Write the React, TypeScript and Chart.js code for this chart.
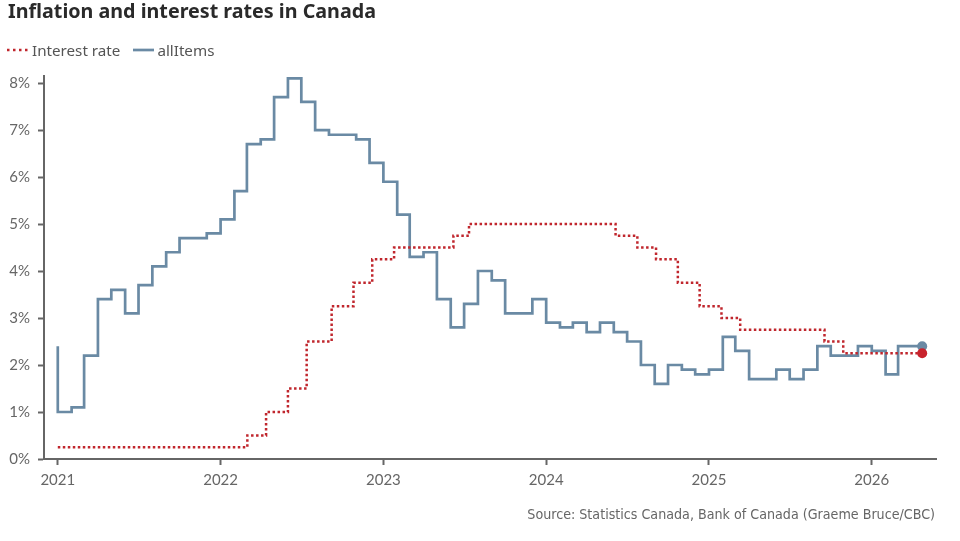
import { useEffect, useRef } from "react";
import { Chart, registerables } from "chart.js";

Chart.register(...registerables);

// Year-over-year CPI change (%), monthly from January 2021
const cpiFirstMonth = "2021-01";
const cpiValues = [
  1.0, 1.1, 2.2, 3.4, 3.6, 3.1, 3.7, 4.1, 4.4, 4.7, 4.7, 4.8,
  5.1, 5.7, 6.7, 6.8, 7.7, 8.1, 7.6, 7.0, 6.9, 6.9, 6.8, 6.3,
  5.9, 5.2, 4.3, 4.4, 3.4, 2.8, 3.3, 4.0, 3.8, 3.1, 3.1, 3.4,
  2.9, 2.8, 2.9, 2.7, 2.9, 2.7, 2.5, 2.0, 1.6, 2.0, 1.9, 1.8,
  1.9, 2.6, 2.3, 1.7, 1.7, 1.9, 1.7, 1.9, 2.4, 2.2, 2.2, 2.4,
  2.3, 1.8, 2.4,
];
// Opening value recorded on the first day of the series
const cpiOpeningValue = 2.4;

// Bank of Canada policy rate (%), by date of each change
const rateDates = [
  "2021-01-01", "2022-03-02", "2022-04-13", "2022-06-01", "2022-07-13",
  "2022-09-07", "2022-10-26", "2022-12-07", "2023-01-25", "2023-06-07",
  "2023-07-12", "2024-06-05", "2024-07-24", "2024-09-04", "2024-10-23",
  "2024-12-11", "2025-01-29", "2025-03-12", "2025-09-17", "2025-10-29",
];
const rateValues = [
  0.25, 0.5, 1.0, 1.5, 2.5,
  3.25, 3.75, 4.25, 4.5, 4.75,
  5.0, 4.75, 4.5, 4.25, 3.75,
  3.25, 3.0, 2.75, 2.5, 2.25,
];

// Latest date shown for both series
const latestDate = "2026-04-24";

const axisStart = "2020-12-01";
const axisEnd = "2026-05-25";
const yearTicks = [2021, 2022, 2023, 2024, 2025, 2026];
const percentTicks = [0, 1, 2, 3, 4, 5, 6, 7, 8];
const percentMax = 8.15;

const BLUE = "#6a8aa4";
const RED = "#c0262d";
const AXIS = "#666666";
const FONT = "Lato, 'Noto Sans', sans-serif";
const HEAD_FONT = "'Noto Sans', 'Open Sans', sans-serif";

function toYear(date: string): number {
  const [y, m, d] = date.split("-").map(Number);
  const start = Date.UTC(y, 0, 1);
  const end = Date.UTC(y + 1, 0, 1);
  return y + (Date.UTC(y, (m || 1) - 1, d || 1) - start) / (end - start);
}

function monthStart(first: string, offset: number): number {
  const [y, m] = first.split("-").map(Number);
  const total = (m - 1) + offset;
  const yy = y + Math.floor(total / 12);
  const mm = (total % 12) + 1;
  return toYear(`${yy}-${String(mm).padStart(2, "0")}-01`);
}

function buildCpiPoints() {
  const pts = [{ x: monthStart(cpiFirstMonth, 0), y: cpiOpeningValue }];
  cpiValues.forEach((v, i) => pts.push({ x: monthStart(cpiFirstMonth, i), y: v }));
  pts.push({ x: toYear(latestDate), y: cpiValues[cpiValues.length - 1] });
  return pts;
}

function buildRatePoints() {
  const pts = rateDates.map((d, i) => ({ x: toYear(d), y: rateValues[i] }));
  pts.push({ x: toYear(latestDate), y: rateValues[rateValues.length - 1] });
  return pts;
}

function lastPointRadius(ctx: any) {
  const n = ctx.dataset.data.length;
  return ctx.dataIndex === n - 1 ? 5 : 0;
}

export default function App() {
  const canvasRef = useRef<HTMLCanvasElement | null>(null);

  useEffect(() => {
    const canvas = canvasRef.current;
    if (!canvas) return;
    const chart = new Chart(canvas, {
      type: "line",
      data: {
        datasets: [
          {
            label: "Interest rate",
            data: buildRatePoints(),
            // horizontal run at the held value, then a vertical step at the next date
            stepped: "before",
            borderColor: RED,
            backgroundColor: RED,
            borderWidth: 2.5,
            borderDash: [2.5, 2.5],
            borderCapStyle: "butt",
            pointRadius: lastPointRadius,
            pointHoverRadius: lastPointRadius,
            pointBorderWidth: 0,
            pointBackgroundColor: "#c8232c",
            fill: false,
          },
          {
            label: "allItems",
            data: buildCpiPoints(),
            stepped: "before",
            borderColor: BLUE,
            backgroundColor: BLUE,
            borderWidth: 2.7,
            pointRadius: lastPointRadius,
            pointHoverRadius: lastPointRadius,
            pointBorderWidth: 0,
            pointBackgroundColor: BLUE,
            fill: false,
          },
        ],
      },
      options: {
        responsive: false,
        animation: false,
        layout: { padding: { top: 76, right: 24, bottom: 42, left: 0 } },
        plugins: {
          legend: { display: false },
          title: { display: false },
          tooltip: { enabled: false },
        },
        scales: {
          x: {
            type: "linear",
            min: toYear(axisStart),
            max: toYear(axisEnd),
            afterBuildTicks: (scale: any) => {
              scale.ticks = yearTicks.map((v) => ({ value: v }));
            },
            afterFit: (scale: any) => {
              scale.height = 40;
            },
            grid: {
              drawOnChartArea: false,
              drawTicks: true,
              tickLength: 6,
              tickWidth: 2,
              color: AXIS,
            },
            border: { display: true, color: AXIS, width: 2 },
            ticks: {
              autoSkip: false,
              maxRotation: 0,
              padding: 6,
              color: "#666666",
              font: { family: FONT, size: 15 },
              callback: (v: any) => String(v),
            },
          },
          y: {
            type: "linear",
            min: 0,
            max: percentMax,
            afterBuildTicks: (scale: any) => {
              scale.ticks = percentTicks.map((v) => ({ value: v }));
            },
            afterFit: (scale: any) => {
              scale.width = 44;
            },
            grid: {
              drawOnChartArea: false,
              drawTicks: true,
              tickLength: 6,
              tickWidth: 2,
              color: AXIS,
            },
            border: { display: true, color: AXIS, width: 2 },
            ticks: {
              padding: 8,
              color: "#666666",
              font: { family: FONT, size: 15 },
              callback: (v: any) => `${v}%`,
            },
          },
        },
      },
    } as any);
    return () => chart.destroy();
  }, []);

  return (
    <div
      style={{
        position: "fixed",
        left: 0,
        top: 0,
        width: 960,
        height: 541,
        background: "#ffffff",
        overflow: "hidden",
      }}
    >
      <canvas
        ref={canvasRef}
        width={960}
        height={541}
        style={{ position: "absolute", left: 0, top: 0, width: 960, height: 541 }}
      />
      <div
        style={{
          position: "absolute",
          left: 8,
          top: 1,
          fontFamily: HEAD_FONT,
          fontWeight: 700,
          fontSize: 19.7,
          lineHeight: "20px",
          color: "#2a2a2a",
          whiteSpace: "nowrap",
        }}
      >
        Inflation and interest rates in Canada
      </div>
      <div
        style={{
          position: "absolute",
          left: 6,
          top: 42,
          display: "flex",
          alignItems: "center",
          fontFamily: HEAD_FONT,
          fontSize: 15.2,
          lineHeight: "16px",
          color: "#555555",
          whiteSpace: "nowrap",
        }}
      >
        <svg width={24} height={6} style={{ marginRight: 2 }}>
          <line x1={1} y1={3} x2={24} y2={3} stroke={RED} strokeWidth={2.5} strokeDasharray="2.5 3.5" />
        </svg>
        <span>Interest rate</span>
        <svg width={21} height={6} style={{ marginLeft: 13, marginRight: 3 }}>
          <line x1={0} y1={3} x2={21} y2={3} stroke={BLUE} strokeWidth={2.7} />
        </svg>
        <span>allItems</span>
      </div>
      <div
        style={{
          position: "absolute",
          right: 25,
          top: 507,
          fontFamily: "'DejaVu Sans Condensed', 'Liberation Sans Narrow', sans-serif",
          fontSize: 14.15,
          lineHeight: "14px",
          color: "#666666",
          whiteSpace: "nowrap",
        }}
      >
        Source: Statistics Canada, Bank of Canada (Graeme Bruce/CBC)
      </div>
    </div>
  );
}
